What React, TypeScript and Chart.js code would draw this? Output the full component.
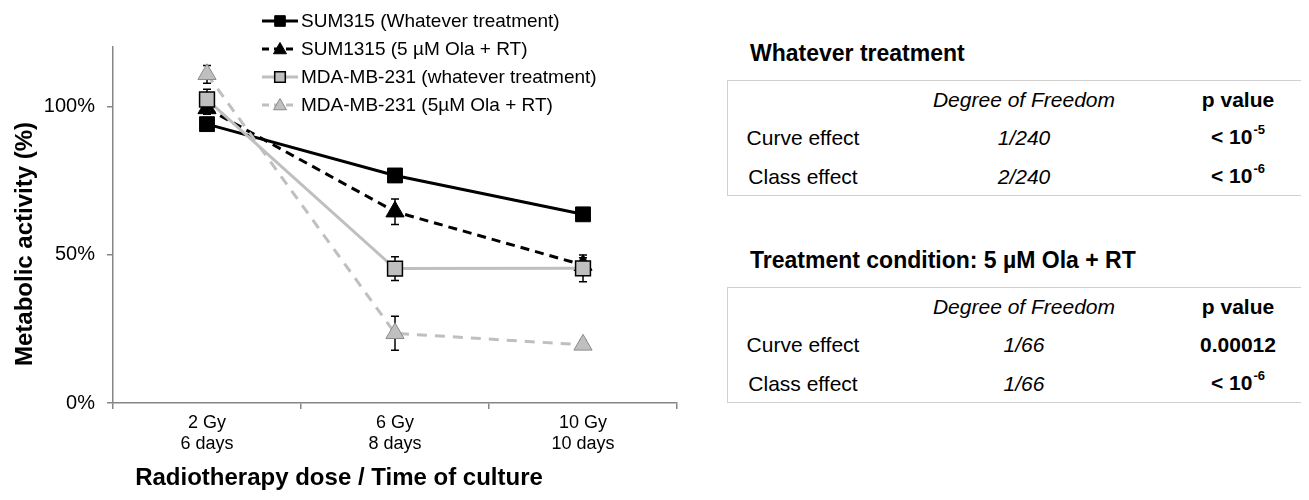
import React, { useEffect, useRef } from 'react';
import { Chart, registerables } from 'chart.js';

Chart.register(...registerables);

const FONT = "'Liberation Sans', Arial, Helvetica, sans-serif";

// ---- data ----
const categories = [['2 Gy', '6 days'], ['6 Gy', '8 days'], ['10 Gy', '10 days']];
const seriesNames = [
  'SUM315 (Whatever treatment)',
  'SUM1315 (5 µM Ola + RT)',
  'MDA-MB-231 (whatever treatment)',
  'MDA-MB-231 (5µM Ola + RT)',
];
const sum315 = [94, 76.7, 63.6];
const sum315Err = [1.5, 1.5, 1.8];
const sum1315 = [99.3, 64.5, 46.5];
const sum1315Err = [2, 4.3, 2.5];
const mdaWhatever = [102.3, 45.3, 45.4];
const mdaWhateverErr = [3.5, 4, 4.5];
const mdaOla = [110.8, 23.5, 19.6];
const mdaOlaErr = [3, 5.7, 1.5];
const yTicks = [0, 50, 100];
const xTitle = 'Radiotherapy dose / Time of culture';
const yTitle = 'Metabolic activity (%)';

const table1Title = 'Whatever treatment';
const table2Title = 'Treatment condition: 5 µM Ola + RT';
const tableHeader = ['', 'Degree of Freedom', 'p value'];
const table1Rows = [
  ['Curve effect', '1/240', '< 10', '-5'],
  ['Class effect', '2/240', '< 10', '-6'],
];
const table2Rows = [
  ['Curve effect', '1/66', '0.00012', ''],
  ['Class effect', '1/66', '< 10', '-6'],
];

const GRAY = '#BFBFBF';
const AXIS = '#868686';

const styles = [
  { color: '#000', dash: [], shape: 'rect', fill: '#000', border: '#000', bw: 1 },
  { color: '#000', dash: [9, 6], shape: 'triangle', fill: '#000', border: '#000', bw: 1 },
  { color: GRAY, dash: [], shape: 'rect', fill: GRAY, border: '#000', bw: 1.5 },
  { color: GRAY, dash: [10, 8], shape: 'triangle', fill: GRAY, border: '#8a8a8a', bw: 1 },
];

function drawMarker(ctx: CanvasRenderingContext2D, shape: string, x: number, y: number, r: number, fill: string, border: string, bw: number) {
  ctx.save();
  ctx.setLineDash([]);
  ctx.beginPath();
  if (shape === 'rect') {
    const s = r * Math.SQRT1_2;
    ctx.rect(x - s, y - s, 2 * s, 2 * s);
  } else {
    ctx.moveTo(x, y - r);
    ctx.lineTo(x + r * 0.866, y + r * 0.5);
    ctx.lineTo(x - r * 0.866, y + r * 0.5);
    ctx.closePath();
  }
  ctx.fillStyle = fill;
  ctx.fill();
  ctx.lineWidth = bw;
  ctx.strokeStyle = border;
  ctx.stroke();
  ctx.restore();
}

const errors = [sum315Err, sum1315Err, mdaWhateverErr, mdaOlaErr];

const errorBarPlugin = {
  id: 'errorBars',
  beforeDatasetsDraw(chart: any) {
    const ctx = chart.ctx;
    const y = chart.scales.y;
    ctx.save();
    ctx.strokeStyle = '#000';
    ctx.lineWidth = 1.5;
    ctx.setLineDash([]);
    chart.data.datasets.forEach((ds: any, i: number) => {
      const meta = chart.getDatasetMeta(i);
      meta.data.forEach((pt: any, j: number) => {
        const v = ds.data[j];
        const e = errors[i][j];
        const top = y.getPixelForValue(v + e);
        const bot = y.getPixelForValue(v - e);
        const x = pt.x;
        ctx.beginPath();
        ctx.moveTo(x, top);
        ctx.lineTo(x, bot);
        ctx.moveTo(x - 4, top);
        ctx.lineTo(x + 4, top);
        ctx.moveTo(x - 4, bot);
        ctx.lineTo(x + 4, bot);
        ctx.stroke();
      });
    });
    ctx.restore();
  },
};

const decorPlugin = {
  id: 'decor',
  afterDraw(chart: any) {
    const ctx = chart.ctx;
    ctx.save();
    ctx.fillStyle = '#000';
    ctx.font = `bold 24px ${FONT}`;
    ctx.textAlign = 'center';
    ctx.textBaseline = 'middle';
    ctx.fillText(xTitle, 331, 470);
    ctx.save();
    ctx.translate(17, 236);
    ctx.rotate(-Math.PI / 2);
    ctx.fillText(yTitle, 0, 0);
    ctx.restore();

    // legend
    const lx0 = 254;
    const lx1 = 290;
    const rows = [13, 41, 69, 97];
    ctx.font = `19px ${FONT}`;
    ctx.textAlign = 'left';
    seriesNames.forEach((name, i) => {
      const st = styles[i];
      const yy = rows[i];
      ctx.save();
      ctx.strokeStyle = st.color;
      ctx.lineWidth = 3;
      ctx.setLineDash(st.dash.length ? [7, 5] : []);
      ctx.beginPath();
      ctx.moveTo(lx0, yy);
      ctx.lineTo(lx1, yy);
      ctx.stroke();
      ctx.restore();
      drawMarker(ctx, st.shape, (lx0 + lx1) / 2, yy + (st.shape === 'triangle' ? 1 : 0), 7.5, st.fill, st.border, st.bw);
      ctx.fillStyle = '#000';
      ctx.fillText(name, lx1 + 3, yy + 1);
    });
    ctx.restore();
  },
};

function ChartCanvas() {
  const ref = useRef<HTMLCanvasElement | null>(null);
  useEffect(() => {
    if (!ref.current) return;
    const all = [sum315, sum1315, mdaWhatever, mdaOla];
    const chart = new Chart(ref.current, {
      type: 'line',
      data: {
        labels: categories as any,
        datasets: all.map((d, i) => ({
          label: seriesNames[i],
          data: d,
          borderColor: styles[i].color,
          borderWidth: 3,
          borderDash: styles[i].dash,
          pointStyle: styles[i].shape as any,
          pointRadius: 10.5,
          pointBackgroundColor: styles[i].fill,
          pointBorderColor: styles[i].border,
          pointBorderWidth: styles[i].bw,
          tension: 0,
          fill: false,
          order: 4 - i,
        })),
      },
      options: {
        animation: false,
        responsive: true,
        maintainAspectRatio: false,
        layout: { padding: { left: 0, right: 21, top: 39, bottom: 0 } },
        plugins: { legend: { display: false }, tooltip: { enabled: false } },
        scales: {
          x: {
            type: 'category',
            offset: true,
            grid: { offset: true, drawOnChartArea: false, drawTicks: true, tickLength: 6, tickColor: AXIS, lineWidth: 1.5 },
            border: { color: AXIS, width: 1.5 },
            ticks: { color: '#000', font: { family: FONT, size: 18 }, padding: 3, maxRotation: 0, autoSkip: false },
            afterFit: (s: any) => { s.height = 97; },
          },
          y: {
            min: 0,
            max: 120,
            afterBuildTicks: (s: any) => { s.ticks = yTicks.map((v) => ({ value: v })); },
            grid: { drawOnChartArea: false, drawTicks: true, tickLength: 6, tickColor: AXIS, lineWidth: 1.5 },
            border: { color: AXIS, width: 1.5 },
            ticks: { color: '#000', font: { family: FONT, size: 20 }, padding: 12, callback: (v: any) => `${v}%` },
            afterFit: (s: any) => { s.width = 105; },
          },
        },
      },
      plugins: [errorBarPlugin, decorPlugin],
    });
    return () => chart.destroy();
  }, []);
  return (
    <div style={{ position: 'absolute', left: 0, top: 0, width: 690, height: 492 }}>
      <canvas ref={ref} />
    </div>
  );
}

function StatTable({ top, title, rows }: { top: number; title: string; rows: string[][] }) {
  const boxLeft = 719;
  const boxW = 579;
  const boxH = 116;
  const cols = [795, 1016, 1230];
  const rowY = [20, 58, 97];
  const cell = (x: number, y: number, content: React.ReactNode, extra: React.CSSProperties = {}) => (
    <div
      style={{
        position: 'absolute',
        left: x,
        top: top + y,
        transform: 'translate(-50%, -50%)',
        whiteSpace: 'nowrap',
        fontSize: 21,
        lineHeight: '24px',
        ...extra,
      }}
    >
      {content}
    </div>
  );
  const pval = (main: string, sup: string) => (
    <span>
      {main}
      {sup ? <span style={{ fontSize: 13, position: 'relative', top: -10, marginLeft: 1 }}>{sup}</span> : null}
    </span>
  );
  return (
    <>
      <div
        style={{
          position: 'absolute',
          left: 742,
          top: top - 27,
          transform: 'translateY(-50%)',
          fontSize: 23,
          fontWeight: 'bold',
          whiteSpace: 'nowrap',
          lineHeight: '26px',
        }}
      >
        {title}
      </div>
      <div
        style={{
          position: 'absolute',
          left: boxLeft,
          top: top,
          width: boxW,
          height: boxH,
          border: '1.5px solid #d0d0d0',
          boxSizing: 'border-box',
        }}
      />
      {cell(cols[1], rowY[0], tableHeader[1], { fontStyle: 'italic' })}
      {cell(cols[2], rowY[0], tableHeader[2], { fontWeight: 'bold' })}
      {rows.map((r, i) => (
        <React.Fragment key={i}>
          {cell(cols[0], rowY[i + 1], r[0])}
          {cell(cols[1], rowY[i + 1], r[1], { fontStyle: 'italic' })}
          {cell(cols[2], rowY[i + 1], pval(r[2], r[3]), { fontWeight: 'bold' })}
        </React.Fragment>
      ))}
    </>
  );
}

export default function App() {
  return (
    <div style={{ position: 'relative', width: 1293, height: 492, fontFamily: FONT, color: '#000' }}>
      <ChartCanvas />
      <StatTable top={72} title={table1Title} rows={table1Rows} />
      <StatTable top={279} title={table2Title} rows={table2Rows} />
    </div>
  );
}
